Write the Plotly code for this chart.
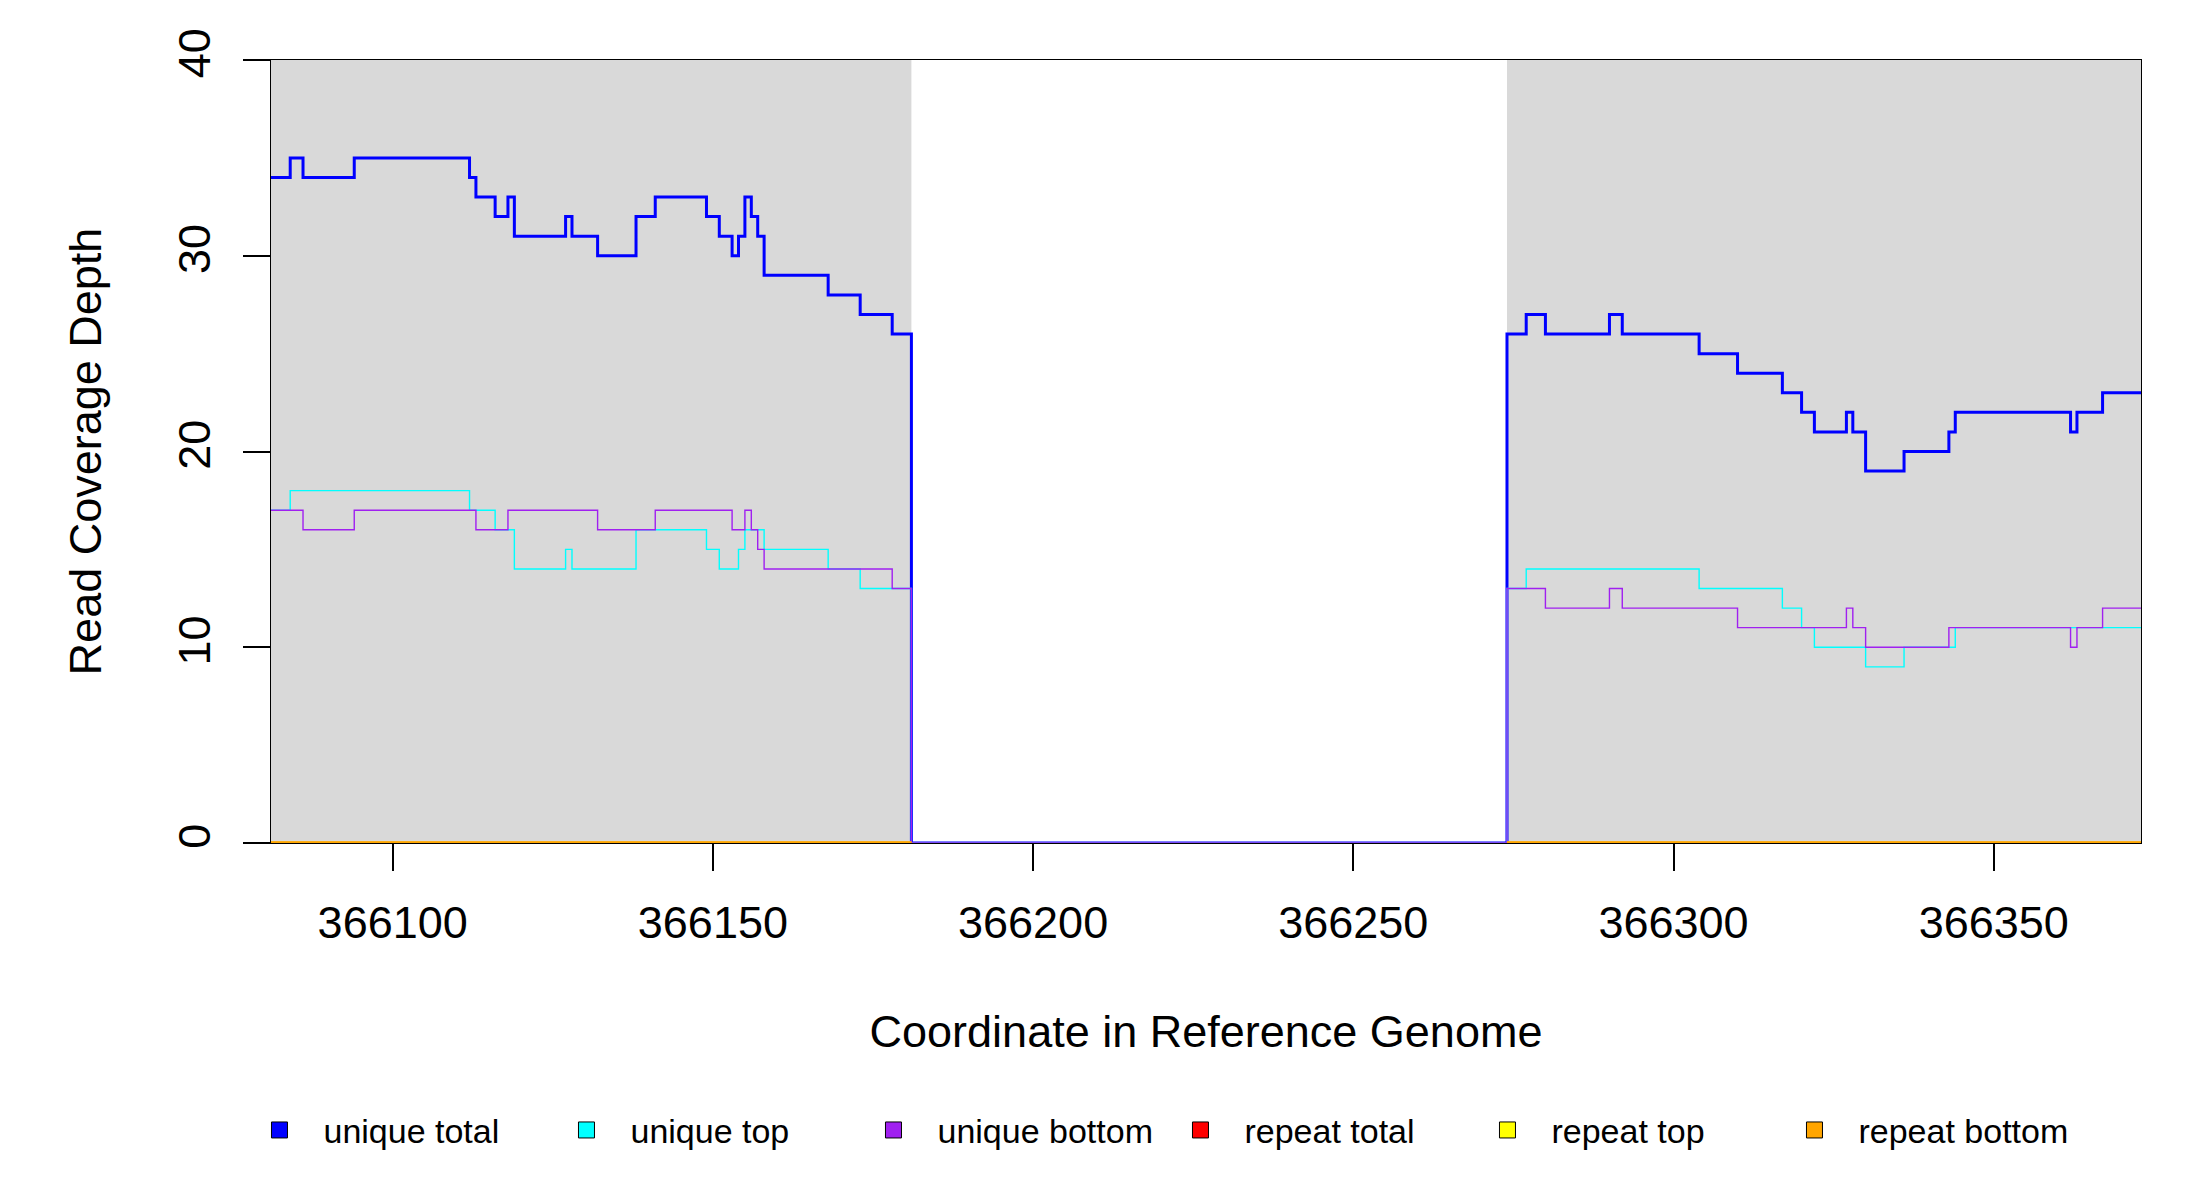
import plotly.graph_objects as go

# positions where the depth changes and the depth from that position on (step plot)
unique_total_x = [366081, 366084, 366086, 366094, 366112, 366113, 366116, 366118, 366119, 366127,
                  366128, 366132, 366138, 366141, 366149, 366151, 366153, 366154, 366155, 366156,
                  366157, 366158, 366168, 366173, 366178, 366181,
                  366274, 366277, 366280, 366290, 366292, 366304, 366310, 366317, 366320, 366322,
                  366327, 366328, 366330, 366336, 366343, 366344, 366362, 366363, 366367, 366373]
unique_total_y = [34, 35, 34, 35, 34, 33, 32, 33, 31, 32,
                  31, 30, 32, 33, 32, 31, 30, 31, 33, 32,
                  31, 29, 28, 27, 26, 0,
                  26, 27, 26, 27, 26, 25, 24, 23, 22, 21,
                  22, 21, 19, 20, 21, 22, 21, 22, 23, 23]

unique_top_x = [366081, 366084, 366112, 366116, 366119, 366127, 366128, 366138, 366149, 366151,
                366154, 366155, 366158, 366168, 366173, 366181,
                366274, 366277, 366304, 366317, 366320, 366322, 366330, 366336, 366344, 366373]
unique_top_y = [17, 18, 17, 16, 14, 15, 14, 16, 15, 14,
                15, 16, 15, 14, 13, 0,
                13, 14, 13, 12, 11, 10, 9, 10, 11, 11]

unique_bottom_x = [366081, 366086, 366094, 366113, 366118, 366132, 366141, 366153, 366155, 366156,
                   366157, 366158, 366178, 366181,
                   366274, 366280, 366290, 366292, 366310, 366327, 366328, 366330, 366343, 366362,
                   366363, 366367, 366373]
unique_bottom_y = [17, 16, 17, 16, 17, 16, 17, 16, 17, 16,
                   15, 14, 13, 0,
                   13, 12, 13, 12, 11, 12, 11, 10, 11, 10,
                   11, 12, 12]

# covered regions (grey background); repeat depths are zero inside them
region_start = [366081, 366274]
region_end = [366181, 366373]
repeat_depth = 0

x_range = [366081, 366373]
y_range = [0, 40]
x_ticks = [366100, 366150, 366200, 366250, 366300, 366350]
y_ticks = [0, 10, 20, 30, 40]

names = ["unique total", "unique top", "unique bottom", "repeat total", "repeat top", "repeat bottom"]
colors = ["#0000ff", "#00ffff", "#a020f0", "#ff0000", "#ffff00", "#ffa500"]

FONT = "Liberation Sans, Arial, sans-serif"

repeat_x, repeat_y = [], []
for s, e in zip(region_start, region_end):
    repeat_x += [s, e, None]
    repeat_y += [repeat_depth, repeat_depth, None]

series = [
    (unique_total_x, unique_total_y, 3.0),
    (unique_top_x, unique_top_y, 1.4),
    (unique_bottom_x, unique_bottom_y, 1.4),
    (repeat_x, repeat_y, 3.0),
    (repeat_x, repeat_y, 3.0),
    (repeat_x, repeat_y, 3.0),
]

fig = go.Figure()

for s, e in zip(region_start, region_end):
    fig.add_shape(type="rect", xref="x", yref="y", x0=s, x1=e, y0=y_range[0], y1=y_range[1],
                  fillcolor="#d9d9d9", line_width=0, layer="below")

for (xs, ys, w), name, c in zip(series, names, colors):
    fig.add_trace(go.Scatter(x=xs, y=ys, mode="lines", line=dict(color=c, width=w, shape="hv"),
                             name=name, legendgroup=name, showlegend=False, hoverinfo="skip"))

# legend entries as filled squares like the original
for name, c in zip(names, colors):
    fig.add_trace(go.Scatter(x=[None], y=[None], mode="markers", name=name, legendgroup=name,
                             marker=dict(symbol="square", size=16, color=c,
                                         line=dict(color="black", width=1))))

fig.update_layout(
    width=2200, height=1200,
    margin=dict(l=263, r=67, t=52, b=365),
    paper_bgcolor="white", plot_bgcolor="white",
    font=dict(family=FONT, size=45, color="black"),
    showlegend=True,
    legend=dict(orientation="h", x=-0.019, y=-0.367, xanchor="left", yanchor="middle",
                font=dict(family=FONT, size=34), entrywidth=214, itemwidth=78,
                bgcolor="rgba(0,0,0,0)", traceorder="normal"),
)

fig.update_xaxes(range=x_range, tickvals=x_ticks, ticktext=[str(v) for v in x_ticks],
                 ticks="outside", ticklen=27, tickwidth=1.6, tickcolor="black",
                 showline=True, linecolor="black", linewidth=1.3, mirror=True,
                 showgrid=False, zeroline=False, ticklabelstandoff=13,
                 title=dict(text="Coordinate in Reference Genome", standoff=68,
                            font=dict(family=FONT, size=45)))
fig.update_yaxes(range=y_range, tickvals=y_ticks, ticks="outside", ticklen=27,
                 tickwidth=1.6, tickcolor="black", tickangle=-90,
                 showline=True, linecolor="black", linewidth=1.3, mirror=True,
                 showgrid=False, zeroline=False, ticklabelstandoff=15,
                 title=dict(text="Read Coverage Depth", standoff=53,
                            font=dict(family=FONT, size=45)))

fig.write_html("out.html")
